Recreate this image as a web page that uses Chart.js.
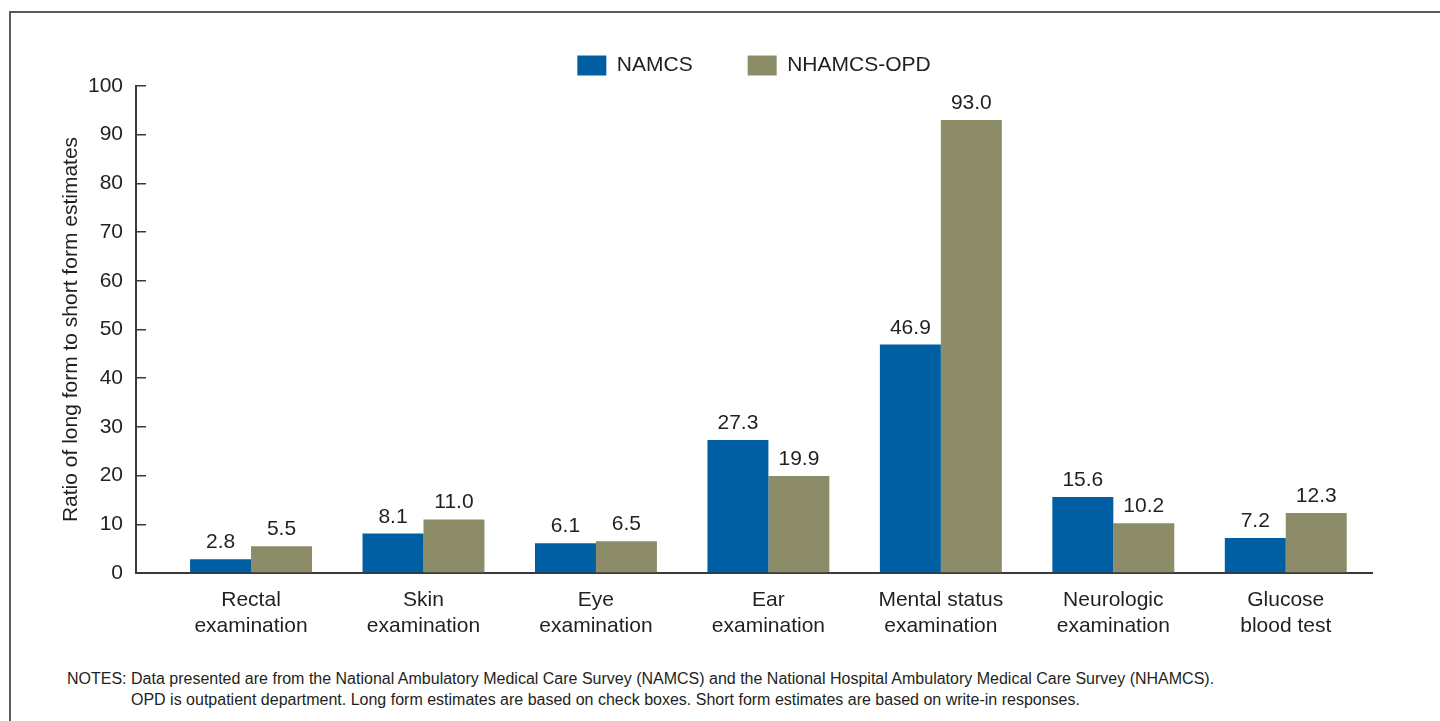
<!DOCTYPE html>
<html>
<head>
<meta charset="utf-8">
<script src="https://cdn.jsdelivr.net/npm/chart.js@4.4.1/dist/chart.umd.min.js"></script>
<style>
  html, body { margin: 0; padding: 0; background: #fff; overflow: hidden; }
  body { width: 1440px; height: 721px; position: relative; }
  #frame { position: absolute; left: 9px; top: 11px; width: 2000px; height: 2000px; border-top: 2px solid #5a5a5a; border-left: 2px solid #5a5a5a; }
  #wrap { position: absolute; left: 0; top: 0; width: 1440px; height: 660px; }
  #notes { position: absolute; left: 67px; top: 668px; font-family: "Liberation Sans", Arial, sans-serif; font-size: 16px; line-height: 21px; color: #231f20; white-space: nowrap; }
  #notes div + div { padding-left: 64px; }
</style>
</head>
<body>
<div id="frame"></div>
<div id="wrap"><canvas id="myChart"></canvas></div>
<div id="notes">
  <div>NOTES: Data presented are from the National Ambulatory Medical Care Survey (NAMCS) and the National Hospital Ambulatory Medical Care Survey (NHAMCS).</div>
  <div>OPD is outpatient department. Long form estimates are based on check boxes. Short form estimates are based on write-in responses.</div>
</div>
<script>
const categories = [
  ["Rectal", "examination"],
  ["Skin", "examination"],
  ["Eye", "examination"],
  ["Ear", "examination"],
  ["Mental status", "examination"],
  ["Neurologic", "examination"],
  ["Glucose", "blood test"],
];
const namcs = [2.8, 8.1, 6.1, 27.3, 46.9, 15.6, 7.2];
const nhamcs_opd = [5.5, 11.0, 6.5, 19.9, 93.0, 10.2, 12.3];
const y_ticks = [0, 10, 20, 30, 40, 50, 60, 70, 80, 90, 100];

const ctx = document.getElementById("myChart").getContext("2d");
const font_name = "'Liberation Sans', Arial, sans-serif";
const text_color = "#231f20";
const axis_color = "#3a3a3a";

//Helper to turn a list into x-y points
const toPoints = (arr) => arr.map((v, i) => ({ x: i, y: v }));

//Value labels over the bars
const valueLabels = {
  id: "valueLabels",
  afterDatasetsDraw: (chart) => {
    const c = chart.ctx;
    c.save();
    c.font = "21px " + font_name;
    c.fillStyle = text_color;
    c.textAlign = "center";
    c.textBaseline = "alphabetic";
    chart.data.datasets.forEach((ds, d) => {
      chart.getDatasetMeta(d).data.forEach((bar, i) => {
        c.fillText(ds.data[i].y.toFixed(1), bar.x, bar.y - 11);
      });
    });
    c.restore();
  },
};

const myChart = new Chart(ctx, {
  type: "bar",
  data: {
    datasets: [
      {
        label: "NAMCS",
        data: toPoints(namcs),
        backgroundColor: "#005ea2",
      },
      {
        label: "NHAMCS-OPD",
        data: toPoints(nhamcs_opd),
        backgroundColor: "#8c8c68",
      },
    ],
  },
  options: {
    responsive: true,
    maintainAspectRatio: false,
    animation: false,
    categoryPercentage: 0.707,
    barPercentage: 1.0,
    layout: {
      padding: { top: 0, right: 68, bottom: 0, left: 0 },
    },
    plugins: {
      legend: {
        position: "top",
        fullSize: false,
        labels: {
          boxWidth: 29,
          boxHeight: 20,
          padding: 55,
          color: text_color,
          font: { family: font_name, size: 21 },
        },
      },
      tooltip: { enabled: false },
    },
    scales: {
      x: {
        type: "linear",
        offset: false,
        min: -0.667,
        max: 6.5,
        afterBuildTicks: (scale) => {
          scale.ticks = scale.ticks.filter((t) => Number.isInteger(t.value));
        },
        afterFit: (scale) => {
          scale.height = 87;
        },
        grid: { display: false, drawTicks: false, offset: false },
        border: { display: true, color: axis_color, width: 2 },
        ticks: {
          stepSize: 1,
          autoSkip: false,
          maxRotation: 0,
          padding: 15,
          color: text_color,
          font: { family: font_name, size: 21 },
          callback: (value) => categories[value],
        },
      },
      y: {
        min: 0,
        max: 100,
        afterBuildTicks: (scale) => {
          scale.ticks = y_ticks.map((v) => ({ value: v }));
        },
        afterFit: (scale) => {
          scale.width = 136;
        },
        grid: {
          display: true,
          drawOnChartArea: false,
          drawTicks: true,
          tickLength: -10,
          color: axis_color,
          lineWidth: 1.5,
        },
        border: { display: true, color: axis_color, width: 2 },
        ticks: {
          padding: 23,
          color: text_color,
          font: { family: font_name, size: 21 },
        },
        title: {
          display: true,
          text: "Ratio of long form to short form estimates",
          color: text_color,
          font: { family: font_name, size: 21 },
          padding: { top: 59, bottom: 0 },
        },
      },
    },
  },
  plugins: [valueLabels],
});
</script>
</body>
</html>
